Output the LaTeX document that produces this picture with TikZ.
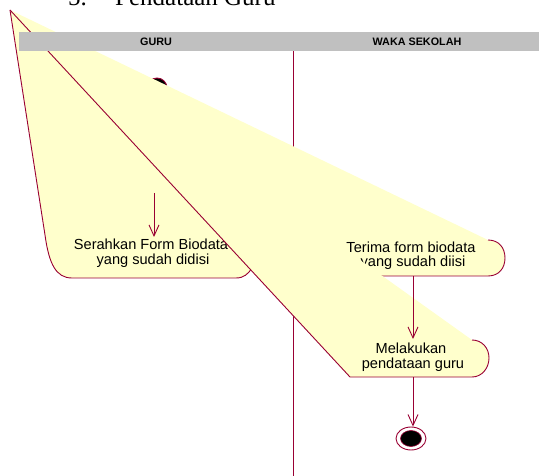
\documentclass[tikz,border=0pt]{standalone}
\usepackage{fontspec}
\setmainfont{Liberation Serif}
\newfontfamily\lanefont{Liberation Sans}
\usetikzlibrary{arrows.meta, shapes.geometric}
\definecolor{roseline}{HTML}{990033}
\definecolor{rosefill}{HTML}{FFFFCC}
\definecolor{lanegray}{HTML}{C0C0C0}

\tikzset{
  actfill/.style={fill=rosefill},
  actline/.style={draw=roseline, line width=0.9pt, line join=round},
  flow/.style={draw=roseline, line width=0.9pt, -{Straight Barb[length=11pt, width=10pt]}},
  acttext/.style={font=\lanefont\fontsize{14.6}{15}\selectfont, anchor=base, inner sep=0pt},
  lanetext/.style={font=\lanefont\bfseries\fontsize{10.8}{12}\selectfont, inner sep=0pt}
}

\begin{document}
\begin{tikzpicture}[x=1pt, y=-1pt]
  \useasboundingbox (0,0) rectangle (539,476);
  \clip (0,0) rectangle (539,476);

  % Heading
  \node at (68,6) [anchor=base west, inner sep=0pt, font=\fontsize{25}{30}\selectfont] (num) {5.};
  \node at (115,6) [anchor=base west, inner sep=0pt, font=\fontsize{25}{30}\selectfont] (title) {Pendataan Guru};

  % Lane divider
  \draw[roseline, line width=0.9pt] (293,51) -- (293,476);

  % Initial state
  \node at (157,88) [circle, fill=black, draw=roseline, line width=0.9pt, minimum size=20pt, inner sep=0pt] (start) {};

  % Serahkan form
  \fill[actfill] (10,10) -- (45,235) .. controls (49,264) and (56,278) .. (72,278) -- (236,278)
    .. controls (244,278) and (248,274) .. (252,268) -- cycle;
  \draw[actline] (10,10) -- (45,235) .. controls (49,264) and (56,278) .. (72,278) -- (236,278)
    .. controls (244,278) and (248,274) .. (252,268);
  \node at (151,250) [acttext] (serah1) {Serahkan Form Biodata};
  \node at (153,265) [acttext] (serah2) {yang sudah didisi};
  \coordinate (in1) at (154,193);
  \coordinate (top1) at (154,237);
  \draw[flow] (in1) -- (top1);

  % Terima form
  \fill[actfill] (10,10) -- (488,240) .. controls (499,240) and (505,248) .. (505,258)
    .. controls (505,268) and (499,276) .. (488,276) -- (330,276) -- cycle;
  \draw[actline] (488,240) .. controls (499,240) and (505,248) .. (505,258)
    .. controls (505,268) and (499,276) .. (488,276) -- (330,276);
  \node at (411,252.5) [acttext] (terima1) {Terima form biodata};
  \node at (413,267) [acttext] (terima2) {yang sudah diisi};

  % Melakukan pendataan
  \fill[actfill] (10,10) -- (472,340) .. controls (482,340) and (489,348) .. (489,358)
    .. controls (489,368) and (482,377) .. (472,377) -- (350,377) -- cycle;
  \draw[actline] (472,340) .. controls (482,340) and (489,348) .. (489,358)
    .. controls (489,368) and (482,377) .. (472,377) -- (350,377) -- (10,10);
  \node at (411,353) [acttext] (data1) {Melakukan};
  \node at (413,368) [acttext] (data2) {pendataan guru};

  % Lane headers
  \fill[lanegray] (19,32) rectangle (539,51);
  \node at (156,41.5) [lanetext] (guru) {GURU};
  \node at (417,41.5) [lanetext] (waka) {WAKA SEKOLAH};

  % Final state
  \node at (411,438.5) [ellipse, draw=roseline, fill=white, line width=0.9pt, minimum width=30pt, minimum height=23pt, inner sep=0pt] (final) {};
  \node at (411,438.5) [ellipse, draw=roseline, fill=black, line width=0.6pt, minimum width=21pt, minimum height=16pt, inner sep=0pt] (finaldot) {};

  % Flows
  \coordinate (out2) at (413,276);
  \coordinate (in3) at (413,339);
  \coordinate (out3) at (413,377);
  \draw[flow] (out2) -- (in3);
  \draw[flow] (out3) -- (final.north -| out3);
\end{tikzpicture}
\end{document}
